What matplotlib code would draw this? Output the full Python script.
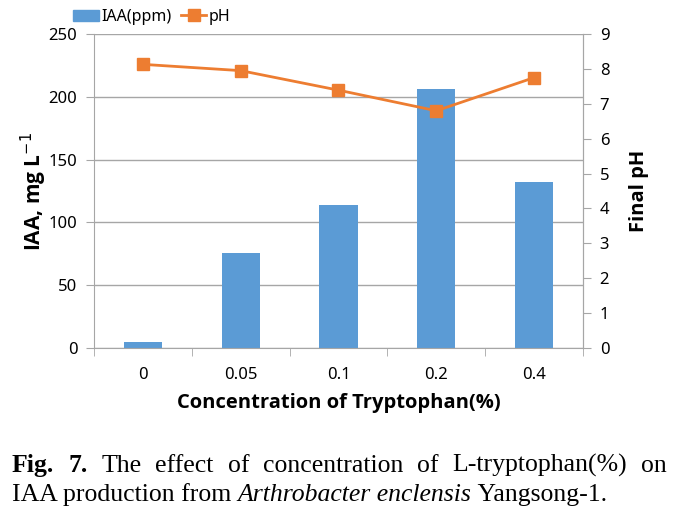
import numpy as np
import matplotlib.pyplot as plt
from matplotlib.patches import Patch
from matplotlib.lines import Line2D

# data
conc = ['0', '0.05', '0.1', '0.2', '0.4']
iaa = [4.5, 76, 114, 206, 132]
ph = [8.13, 7.95, 7.39, 6.80, 7.75]

iaa_ticks = [0, 50, 100, 150, 200, 250]
ph_ticks = list(range(0, 10))

BLUE = '#5B9BD5'
ORANGE = '#ED7D31'
GRID = '#A6A6A6'
W, H = 681, 513

plt.rcParams['font.family'] = ['Noto Sans', 'DejaVu Sans']
BOLD = ['Open Sans', 'DejaVu Sans']

fig = plt.figure(figsize=(W / 100, H / 100), dpi=100)
ax = fig.add_axes([94 / W, 1 - 348 / H, (583 - 94) / W, (348 - 34) / H])
x = np.arange(len(conc))

ax.bar(x, iaa, width=0.39, color=BLUE, zorder=2)
ax.set_xlim(-0.5, len(conc) - 0.5)
ax.set_ylim(0, 250)
ax.set_yticks(iaa_ticks)
ax.grid(axis='y', color=GRID, lw=1, zorder=0)
ax.set_xticks(x)
ax.set_xticklabels(conc)
ax.set_xticks(np.arange(-0.5, len(conc)), minor=True)
ax.tick_params(axis='x', which='major', length=0, pad=14, labelsize=12)
ax.tick_params(axis='x', which='minor', length=6, color=GRID, direction='out')
ax.tick_params(axis='y', length=6, color=GRID, labelsize=12, pad=6)
ax.spines['top'].set_visible(False)
for s in ['left', 'bottom', 'right']:
    ax.spines[s].set_color(GRID)
ax.set_ylabel('IAA, mg L$^{-1}$', fontsize=15, fontweight='bold', family=BOLD, labelpad=0)
ax.set_xlabel('Concentration of Tryptophan(%)', fontsize=14.5, fontweight='bold',
              family=BOLD, labelpad=7)

ax2 = ax.twinx()
ax2.plot(x, ph, color=ORANGE, lw=2, marker='s', ms=8, zorder=3)
ax2.set_ylim(0, 9)
ax2.set_yticks(ph_ticks)
ax2.tick_params(axis='y', length=6, color=GRID, labelsize=12, pad=6)
for s in ['top', 'left', 'bottom']:
    ax2.spines[s].set_visible(False)
ax2.spines['right'].set_color(GRID)
ax2.set_ylabel('Final pH', fontsize=14.5, fontweight='bold', family=BOLD, labelpad=14)

handles = [Patch(color=BLUE), Line2D([], [], color=ORANGE, lw=2, marker='s', ms=8)]
fig.legend(handles, ['IAA(ppm)', 'pH'], loc='center left', bbox_to_anchor=(73 / W, 1 - 17 / H),
           ncol=2, frameon=False, fontsize=11.5, handlelength=1.6, handletextpad=0.15,
           columnspacing=0.6, borderaxespad=0, borderpad=0)

# caption, first line justified
cap_size = 18.5
renderer = fig.canvas.get_renderer()
line1 = [('Fig.', 'bold', 'normal'), ('7.', 'bold', 'normal'), ('The', 'normal', 'normal'),
         ('effect', 'normal', 'normal'), ('of', 'normal', 'normal'),
         ('concentration', 'normal', 'normal'), ('of', 'normal', 'normal'),
         ('L-tryptophan(%)', 'normal', 'normal'), ('on', 'normal', 'normal')]
texts = [fig.text(0, 1 - 472 / H, w, fontsize=cap_size, family='Liberation Serif',
                  fontweight=fw, fontstyle=fs, va='baseline') for w, fw, fs in line1]
widths = [t.get_window_extent(renderer).width for t in texts]
x0, x1 = 12, 667
gap = (x1 - x0 - sum(widths)) / (len(texts) - 1)
pos = x0
for t, wd in zip(texts, widths):
    t.set_x(pos / W)
    pos += wd + gap

line2 = [('IAA production from ', 'normal'), ('Arthrobacter enclensis', 'italic'),
         (' Yangsong-1.', 'normal')]
pos = x0
for w, fs in line2:
    t = fig.text(pos / W, 1 - 501 / H, w, fontsize=cap_size, family='Liberation Serif',
                 fontstyle=fs, va='baseline')
    pos += t.get_window_extent(renderer).width

fig.savefig('out.png', dpi=100)
